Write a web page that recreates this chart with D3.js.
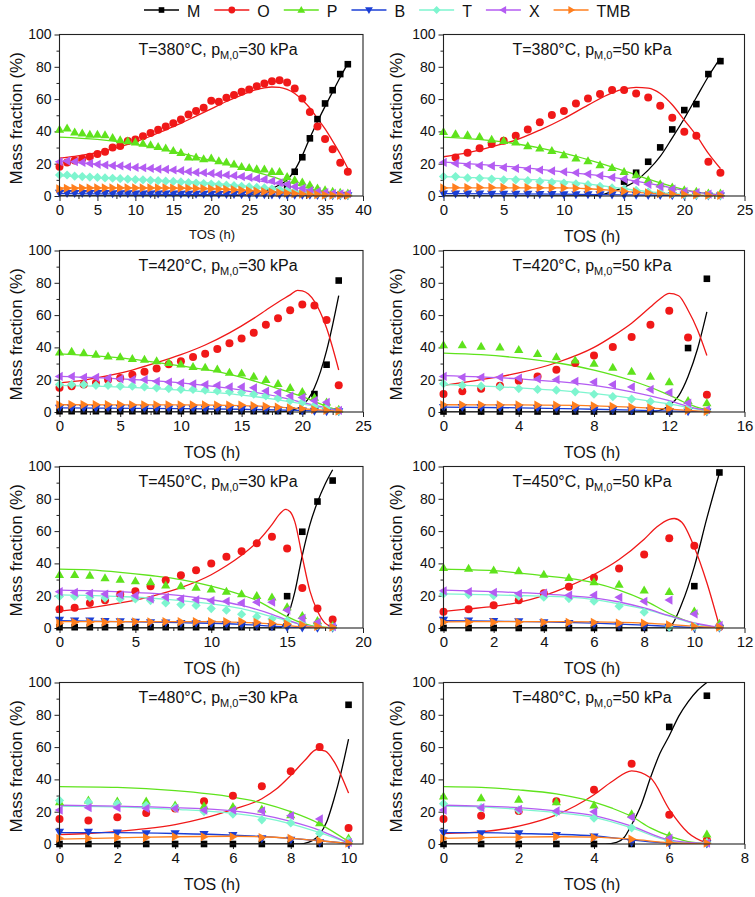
<!DOCTYPE html>
<html><head><meta charset="utf-8">
<script src="https://cdn.jsdelivr.net/npm/d3@7"></script>
<style>body{margin:0;background:#fff} svg text{font-family:"Liberation Sans",Arial,sans-serif;fill:#111}</style>
</head><body><svg id="c" width="755" height="897"></svg>
<script>
const seriesNames = ["M","O","P","B","T","X","TMB"];
const seriesColors = ["#000000","#f01818","#5fe31c","#1b3fd6","#7ef5cf","#b45cf2","#ff7f1e"];
const yTicks = [0,20,40,60,80,100];

// Panel 1: T=380 C, 30 kPa
const p1_tos = [0,1,2,3,4,5,6,7,8,9,10,11,12,13,14,15,16,17,18,19,20,21,22,23,24,25,26,27,28,29,30,31,32,33,34,35,36,37,38];
const p1_M = [null,null,null,null,null,null,null,null,null,null,null,null,null,null,null,null,null,null,null,null,null,null,null,null,null,null,null,null,null,null,6,15,24,35.7,47.6,57.3,65.5,75.5,81.6];
const p1_O = [18.1,20.8,22,23,24.3,26,27.4,30,31,34,35,37,39,41,43,45,47.4,50.5,52.6,54.6,59,58.4,60.8,62.5,64.5,66,68,69.7,71,71.7,70.3,66.6,60.4,52,43,35.3,29,20.6,15];
const p1_P = [41.2,41.9,39.4,38.8,38.1,38.1,37.7,36.1,34.6,34,33.2,32.4,31.5,30.5,29.5,28,26.8,23.9,23.9,22.9,23.3,21.6,20.8,19.6,18.1,17.5,16.7,16.5,15,15,11.9,9.9,8.5,6.8,4.7,3.7,2.7,2.1,1.6];
const p1_B = [1.9,1.8,1.8,1.7,1.8,1.7,1.7,1.6,1.6,1.6,1.5,1.5,1.5,1.4,1.4,1.4,1.3,1.3,1.3,1.2,1.2,1.1,1.1,1.1,1.0,1.0,0.9,0.9,0.8,0.8,0.7,0.7,0.6,0.6,0.5,0.5,0.4,0.4,0.4];
const p1_T = [13,13,12.3,12,11.7,11.5,11.2,11,10.7,10.5,10.2,10,9.7,9.5,9.2,9,8.7,8.3,8,7.7,7.4,7,6.7,6.4,6,5.7,5.3,5,4.5,4,3.5,3,2.5,2,1.6,1.2,1,0.8,0.6];
const p1_X = [21.2,21.6,21.2,20.8,20.2,19.6,19.2,18.8,18.6,18.1,17.7,17.5,17.1,16.7,16.5,16.1,15.7,15.1,14.6,14.4,14,13.4,13,12.6,12,11.5,10.9,10.3,9.3,8.2,7.2,5.8,4.7,3.3,2.7,2.1,1.6,1.4,1.4];
const p1_TMB = [4.5,4.8,4.8,4.9,4.9,5,5,5,5,5,5,5,5,5,5,4.9,4.9,4.8,4.7,4.6,4.5,4.3,4.1,3.9,3.6,3.3,3,2.7,2.4,2.1,1.8,1.5,1.2,1,0.8,0.6,0.5,0.4,0.3];
const p1_fitM = [[0,0],[22,0],[24,0.5],[26,1.6],[27,3],[28,4.7],[29,7],[30,10],[31,16],[32,25],[33,36],[34,46],[35,55.5],[36,64.5],[37,73.5],[38,82]];
const p1_fitO = [[0,23.5],[2,24.5],[4,26],[6,28],[8,30.5],[10,33.5],[12,37],[14,41],[16,45],[18,49.5],[20,54],[22,58.5],[24,62.5],[26,66],[27,67],[28,67.5],[29,67.3],[30,66],[31,63.5],[32,59.5],[33,54.5],[34,48],[35,41.5],[36,34],[37,26],[38,17]];
const p1_fitP = [[0,36.5],[5,35],[10,32],[15,27.5],[20,22],[25,16],[28,12],[30,9],[32,6],[34,3.5],[36,1.8],[38,0.8]];
const p1_fitB = [[0,1.5],[10,1.2],[20,0.9],[30,0.5],[38,0.2]];
const p1_fitT = [[0,12.5],[10,10.5],[20,8],[25,6],[30,3.5],[35,1.2],[38,0.5]];
const p1_fitX = [[0,21.5],[5,19.8],[10,17.6],[15,15.5],[20,13.3],[25,10.5],[28,8],[30,6.3],[32,4.5],[34,3],[36,1.8],[38,1]];
const p1_fitTMB = [[0,5],[10,5],[20,4.5],[25,3.3],[30,1.8],[35,0.6],[38,0.3]];

// Panel 2: T=380 C, 50 kPa
const p2_tos = [0,1,2,3,4,5,6,7,8,9,10,11,12,13,14,15,16,17,18,19,20,21,22,23];
const p2_M = [null,null,null,null,null,null,null,null,null,null,null,null,null,null,null,8.9,14.4,21.2,30.1,41.2,53.2,56.9,75.5,83.5];
const p2_O = [null,23.9,26.8,29.5,32.2,34.2,37.3,41.2,45.6,50.1,52.6,57.3,60.4,63.1,65.6,65.6,63.5,61,55.9,48.5,39.8,37.3,21.2,14.4];
const p2_P = [39.8,38.4,37.7,36.7,35,34.2,33.2,30.9,29.5,28,25.4,23.3,21.6,19.2,17.5,15,13,9.9,7.4,5.4,3.7,2.7,1.6,1.6];
const p2_B = [1.5,1.5,1.4,1.4,1.3,1.3,1.2,1.2,1.1,1.1,1,1,0.9,0.9,0.8,0.7,0.6,0.5,0.5,0.4,0.3,0.3,0.2,0.2];
const p2_T = [12,12,11.2,11,10.5,10,10,9.5,9,8.5,8,7.5,7,6,5,4.3,3.5,2.5,2,1.5,1,0.7,0.5,0.3];
const p2_X = [20.8,20.2,19.2,18.8,18.6,17.7,17.1,16.7,16.1,15.5,15,14.4,13.6,12.6,11.5,10.5,8.9,7.2,5.8,4.3,2.7,2.1,1.2,1];
const p2_TMB = [5,5.2,5.2,5.3,5.3,5.3,5.2,5.2,5.1,5,5,4.8,4.5,4,3.5,3,2.5,2,1.5,1.2,1,0.7,0.5,0.3];
const p2_fitM = [[0,0],[12,0],[13,0.6],[14,2.7],[15,5.5],[16,9.5],[17,16],[18,24.5],[19,36],[20,48],[21,61],[22,74],[23,85.5]];
const p2_fitO = [[0,24.3],[2,26.8],[4,30.5],[6,34.6],[8,40.8],[10,48],[12,56.3],[14,63.9],[15,66.3],[16,67.3],[17,66.8],[18,63.5],[19,56.5],[20,47],[21,37.5],[22,26.4],[23,17]];
const p2_fitP = [[0,36.5],[5,33.5],[10,26.5],[15,15.5],[17,10.5],[19,6],[21,2.5],[23,0.7]];
const p2_fitB = [[0,1.5],[10,1.1],[15,0.7],[20,0.3],[23,0.1]];
const p2_fitT = [[0,12],[5,10.8],[10,9],[13,6.5],[15,4.5],[18,2],[20,1],[23,0.2]];
const p2_fitX = [[0,21],[5,18.5],[10,15],[15,10.5],[18,6.5],[20,3.5],[23,0.5]];
const p2_fitTMB = [[0,5],[10,5],[12,4.5],[14,3.5],[16,2.3],[18,1.3],[20,0.7],[23,0.2]];

// Panel 3: T=420 C, 30 kPa
const p3_tos = [0,1,2,3,4,5,6,7,8,9,10,11,12,13,14,15,16,17,18,19,20,21,22,23];
const p3_M = [0.5,0.5,0.5,0.5,0.5,0.5,0.5,0.5,0.5,0.5,0.5,0.5,0.5,0.5,0.5,0.5,0.5,0.5,0.5,0.5,0.5,11.1,29.3,81.4];
const p3_O = [15,16,17,18,20,21,23,25,27,29.5,31.5,34,36,39,42.5,45.5,49,54,58,63,66.5,66,57,16.5];
const p3_P = [37,37.5,36.5,35.5,34.5,34,33,32.5,31.5,30.5,29.5,28,27.5,26.5,24.5,24,22,20,17.5,15,12.5,9,6,1.5];
const p3_B = [2.5,2.5,2.4,2.4,2.3,2.3,2.2,2.2,2.1,2.1,2,2,1.9,1.9,1.8,1.8,1.6,1.4,1.2,1,0.8,0.6,0.4,0.3];
const p3_T = [17,17,17,16.5,16.5,16,16,15.5,15,14.5,14,14,13.5,13,12.5,12,11,10,8.5,7,6,4,2.5,0.5];
const p3_X = [22,22,21.5,21.5,21,20.5,20,20,19,18.5,18,17.5,17,16.5,15.5,15.5,15,13,12,10,9,7,6,1];
const p3_TMB = [4.5,4.6,4.6,4.6,4.6,4.6,4.5,4.5,4.5,4.5,4.4,4.4,4.4,4.3,4.3,4.3,3.9,3.5,3,2.5,2,1.5,1,0.5];
const p3_fitM = [[0,0],[18,0],[19,0.8],[20,4],[21,15],[21.5,25],[22,38],[22.5,54],[23,72]];
const p3_fitO = [[0,18],[2,19.8],[4,22.5],[6,26],[8,30.5],[10,35.5],[12,41.5],[14,49],[16,58],[17,63],[18,68],[19,72.5],[19.6,75.3],[20,75],[20.5,73],[21,68.5],[22,52],[23,26]];
const p3_fitP = [[0,36],[5,33.5],[10,28.5],[13,25],[15,21.5],[17,17],[19,12],[20,9.5],[21,6.5],[22,3.5],[23,1]];
const p3_fitB = [[0,2.5],[10,2.1],[15,1.7],[20,0.9],[23,0.3]];
const p3_fitT = [[0,16.5],[5,15.5],[10,13.5],[15,10.5],[18,7.5],[20,5],[22,2],[23,0.7]];
const p3_fitX = [[0,22],[5,20.5],[10,18],[15,13.5],[18,9.5],[20,6],[22,2.5],[23,0.8]];
const p3_fitTMB = [[0,4.5],[10,4.4],[15,4],[18,3],[20,2],[22,1],[23,0.5]];

// Panel 4: T=420 C, 50 kPa
const p4_tos = [0,1,2,3,4,5,6,7,8,9,10,11,12,13,14];
const p4_M = [0.3,0.3,0.3,0.3,0.3,0.3,0.3,0.3,0.3,0.3,0.3,0.3,0.3,39.6,82.5];
const p4_O = [11.1,12.8,14.4,16.3,19.4,22,26.2,30.3,35,40.2,46.4,54,62.7,46.2,10.7];
const p4_P = [41.5,41.5,40.5,40,38.5,36,34,32,30,27.5,25,22,18.5,7,5.5];
const p4_B = [3,2.9,2.8,2.6,2.5,2.3,2,1.8,1.5,1.3,1,0.8,0.5,0.3,0.2];
const p4_T = [17.5,16.5,16,15.5,14.5,14,13.5,12.5,11,9.5,8,6.5,4.5,2.5,0.5];
const p4_X = [22,21.5,21.5,21.5,21,20.5,20,19,18.5,17,15.5,14,12,5.5,1.5];
const p4_TMB = [4.5,4.5,4.5,4.4,4.4,4.3,4.2,4,3.8,3.5,3,2.5,2,1,0.3];
const p4_fitM = [[0,0],[11,0],[11.5,1],[12,4],[12.5,10],[13,22],[13.5,39],[14,62]];
const p4_fitO = [[0,16.5],[2,20],[4,24.2],[6,30.5],[8,40],[9,47],[10,55],[11,65],[11.5,70],[12,73.5],[12.5,72],[13,63],[13.5,51],[14,35]];
const p4_fitP = [[0,36.5],[2,35.5],[4,33.5],[6,30.5],[8,26],[10,19.5],[12,10.5],[13,5],[14,1]];
const p4_fitB = [[0,3],[4,2.6],[8,1.7],[12,0.6],[14,0.1]];
const p4_fitT = [[0,17],[4,15],[8,11.5],[10,8.5],[12,5],[14,0.5]];
const p4_fitX = [[0,22.5],[4,20.5],[8,16.5],[10,12.5],[12,7],[13,3.5],[14,0.8]];
const p4_fitTMB = [[0,4.5],[4,4.4],[8,3.8],[10,3],[12,1.8],[14,0.2]];

// Panel 5: T=450 C, 30 kPa
const p5_tos = [0,1,2,3,4,5,6,7,8,9,10,11,12,13,14,15,16,17,18];
const p5_M = [0.5,0.5,0.5,0.5,0.5,0.5,0.5,0.5,0.5,0.5,0.5,0.5,0.5,0.5,0.5,19.7,59.6,78.3,91.3];
const p5_O = [11.6,12.6,15.5,17.2,20.7,22.8,25.9,29.6,32.7,35.8,40,44.1,47.6,52.4,56.5,49.3,24.8,12,5.2];
const p5_P = [33,33,32.5,31,30,29,28.5,26.5,26,25,24,22.5,21,20,19,13,7.5,4.5,1.5];
const p5_B = [5,4.5,4.5,4.2,4,3.8,3.5,3.3,3,2.8,2.5,2.2,1.8,1.5,1,0.5,0.2,0.1,0];
const p5_T = [19.5,19.5,19,18.5,18,18,17,15.5,14.5,14,12,11,8.5,7,5.5,4.5,3,1.5,0.5];
const p5_X = [22.5,22,21.5,21,20.5,20,18,19,18,17.5,17,16.5,15.5,16,16,11,6,3.5,0.8];
const p5_TMB = [3,3.5,3.5,3.6,3.7,3.8,3.8,3.9,3.9,4,4,4,4,3.5,3,2.5,2,1,0.5];
const p5_fitM = [[0,0],[14.5,0],[15,6.5],[15.5,22],[16,45],[16.5,64],[17,78],[17.5,89],[18,98]];
const p5_fitO = [[0,10.5],[2,12.5],[4,15.5],[6,19.5],[8,25],[10,33],[11,38.5],[12,45],[13,53],[14,64],[14.5,70.5],[14.9,73.5],[15.2,72],[15.5,66],[16,44],[16.5,23],[17,10.5],[17.5,3],[18,0.6]];
const p5_fitP = [[0,36.5],[2,36],[4,34.5],[6,32.5],[8,30],[10,26],[12,20.5],[13,17],[14,12],[15,7],[16,3],[17,0.8],[18,0.2]];
const p5_fitB = [[0,4.5],[4,4],[8,3.3],[12,2.3],[14,1.2],[16,0.2],[18,0]];
const p5_fitT = [[0,20.5],[4,19.5],[8,17],[10,15],[12,12],[14,7],[15,4.5],[16,2],[17,0.5],[18,0.1]];
const p5_fitX = [[0,23.5],[4,22.5],[8,20],[10,17.5],[12,14],[14,8.5],[15,5],[16,2],[17,0.5],[18,0.1]];
const p5_fitTMB = [[0,4],[6,4],[10,4],[12,3.5],[14,2.5],[16,0.8],[18,0.1]];

// Panel 6: T=450 C, 50 kPa
const p6_tos = [0,1,2,3,4,5,6,7,8,9,10,11];
const p6_M = [0,0,0,0,0,0,0,0,0,0,25.9,96.3];
const p6_O = [10,11.6,14.1,17.2,21.5,25.5,31.1,36.9,45.5,55.5,50.9,0.6];
const p6_P = [37.2,36.8,35.8,35.2,33.1,31.1,28.5,26.9,23.4,22.4,10.3,2.7];
const p6_B = [5,4.5,4.2,4,3.5,3,2.2,1.5,1,0.5,0.2,0];
const p6_T = [21.1,20.7,20.1,19.7,19.1,18.2,16.6,13.5,9.8,0.5,1,0.5];
const p6_X = [23,22.5,22,21.3,21.6,20.3,20.3,19,16.5,17.3,8.7,1.7];
const p6_TMB = [3.5,3.5,3.5,3.5,3.5,3.5,3.5,3,3,2,1,0.5];
const p6_fitM = [[0,0],[8.8,0],[9,0.5],[9.5,15],[10,38],[10.5,68],[11,96]];
const p6_fitO = [[0,10.3],[1,11.8],[2,13.4],[3,15.9],[4,20],[5,25.9],[6,33.1],[7,42.4],[8,55],[8.5,62.5],[9,67.3],[9.2,67.8],[9.5,65.5],[10,50],[10.5,28],[11,1]];
const p6_fitP = [[0,36.5],[2,35.5],[4,32.3],[5,30.7],[6,28],[7,23.5],[8,17.3],[9,9],[10,2.8],[11,0.3]];
const p6_fitB = [[0,4.5],[2,4.2],[4,3.8],[6,3],[8,1.8],[9,1],[10,0.3],[11,0]];
const p6_fitT = [[0,21.1],[2,20.5],[4,19.7],[5,19.1],[6,17.6],[7,14.9],[8,11.8],[9,7.3],[10,2.7],[11,0.3]];
const p6_fitX = [[0,23.4],[2,22.5],[4,21.1],[5,20.1],[6,18.6],[7,16.1],[8,12.4],[9,7.6],[10,3.1],[11,0.3]];
const p6_fitTMB = [[0,3.8],[2,4],[4,4],[6,3.8],[8,3],[9,2.2],[10,1],[11,0.2]];

// Panel 7: T=480 C, 30 kPa
const p7_tos = [0,1,2,3,4,5,6,7,8,9,10];
const p7_M = [0,0,0,0,0,0,0,0,0,0,86.2];
const p7_O = [15.5,14.6,16.5,19.2,22,26.4,29.9,35.7,45,60,9.9];
const p7_P = [26,27,26.5,26.5,24,23.5,23,21.5,18,13,3.5];
const p7_B = [7.5,7.5,7,6.5,6.5,6,5.5,3.5,2.5,1,0.2];
const p7_T = [27,26,25,24,22.5,20,18.5,15,13,6.5,2];
const p7_X = [21,22.5,22.5,22,22,21,21,20.5,17.5,15.5,1];
const p7_TMB = [3.5,3.5,4,4,4.5,4.5,4.5,4,3.5,2,0.5];
const p7_fitM = [[0,0],[8.3,0],[8.6,1],[9,6],[9.25,14],[9.5,28],[9.75,45],[10,65]];
const p7_fitO = [[0,5.8],[1,6.5],[2,7.8],[3,9.5],[4,12],[5,16],[6,21.5],[7,28],[7.5,34],[8,42.5],[8.5,52],[8.9,58.5],[9.2,57.5],[9.5,51],[10,31.5]];
const p7_fitP = [[0,35.5],[2,35],[4,33],[6,29],[7,25.5],[8,20],[9,12.5],[10,1.5]];
const p7_fitB = [[0,7],[2,7],[4,6.5],[6,5.5],[8,3.5],[9,2],[10,0.3]];
const p7_fitT = [[0,23.5],[2,23],[4,21.5],[6,19],[7,16.5],[8,12.5],[9,7],[10,0.5]];
const p7_fitX = [[0,24],[2,23.5],[4,22.5],[6,20.5],[7,18],[8,14],[9,8.5],[10,0.5]];
const p7_fitTMB = [[0,3],[2,3.8],[4,4.5],[6,4.8],[7,4.5],[8,3.5],[9,2],[10,0.3]];

// Panel 8: T=480 C, 50 kPa
const p8_tos = [0,1,2,3,4,5,6,7];
const p8_M = [0,0,0,0,0,0,72.5,91.8];
const p8_O = [15.5,17.5,20.5,26.4,33.6,49.7,18.1,2.3];
const p8_P = [29.5,28.5,27.5,26,24,18.5,5,6];
const p8_B = [7,6.5,6.5,5.5,4.5,1,0.5,0.2];
const p8_T = [25,22.5,21,19.5,16,10,2,1];
const p8_X = [21,22.5,21.5,20.5,20,16.5,3.5,0.5];
const p8_TMB = [3.5,4,4,4.5,4,3,1,0.5];
const p8_fitM = [[0,0],[4.3,0],[4.6,1],[4.8,4],[5,12],[5.25,24],[5.5,41],[5.75,56],[6,67],[6.25,79],[6.5,88],[6.75,95],[7,100]];
const p8_fitO = [[0,6.5],[1,7.5],[2,11],[3,18],[3.5,23.5],[4,30.5],[4.5,39],[5,45.3],[5.5,41],[6,21.5],[6.5,7],[7,0.5]];
const p8_fitP = [[0,35.5],[1,35],[2,33.5],[3,31],[4,26],[4.5,22],[5,17],[5.5,10],[6,5],[6.5,1.5],[7,0.3]];
const p8_fitB = [[0,7],[1,7],[2,6.5],[3,6],[4,5],[5,2.5],[6,0.5],[7,0.1]];
const p8_fitT = [[0,23.5],[1,23],[2,21.5],[3,19.5],[4,16.5],[5,10],[6,2],[7,0.2]];
const p8_fitX = [[0,24],[1,23.5],[2,22.5],[3,20.5],[4,17.5],[5,11],[6,2.5],[7,0.2]];
const p8_fitTMB = [[0,3.5],[1,4],[2,4.3],[3,4.5],[4,4.3],[5,3],[6,0.8],[7,0.1]];

const panelTemps = ["380","380","420","420","450","450","480","480"];
const panelPress = ["30","50","30","50","30","50","30","50"];
const panelXmax = [40,25,25,16,20,12,10.5,8];
const panelXticks = [[0,5,10,15,20,25,30,35,40],[0,5,10,15,20,25],[0,5,10,15,20,25],[0,4,8,12,16],[0,5,10,15,20],[0,2,4,6,8,10,12],[0,2,4,6,8,10],[0,2,4,6,8]];

const panels = [
 {tos:p1_tos, pts:[p1_M,p1_O,p1_P,p1_B,p1_T,p1_X,p1_TMB], fits:[p1_fitM,p1_fitO,p1_fitP,p1_fitB,p1_fitT,p1_fitX,p1_fitTMB]},
 {tos:p2_tos, pts:[p2_M,p2_O,p2_P,p2_B,p2_T,p2_X,p2_TMB], fits:[p2_fitM,p2_fitO,p2_fitP,p2_fitB,p2_fitT,p2_fitX,p2_fitTMB]},
 {tos:p3_tos, pts:[p3_M,p3_O,p3_P,p3_B,p3_T,p3_X,p3_TMB], fits:[p3_fitM,p3_fitO,p3_fitP,p3_fitB,p3_fitT,p3_fitX,p3_fitTMB]},
 {tos:p4_tos, pts:[p4_M,p4_O,p4_P,p4_B,p4_T,p4_X,p4_TMB], fits:[p4_fitM,p4_fitO,p4_fitP,p4_fitB,p4_fitT,p4_fitX,p4_fitTMB]},
 {tos:p5_tos, pts:[p5_M,p5_O,p5_P,p5_B,p5_T,p5_X,p5_TMB], fits:[p5_fitM,p5_fitO,p5_fitP,p5_fitB,p5_fitT,p5_fitX,p5_fitTMB]},
 {tos:p6_tos, pts:[p6_M,p6_O,p6_P,p6_B,p6_T,p6_X,p6_TMB], fits:[p6_fitM,p6_fitO,p6_fitP,p6_fitB,p6_fitT,p6_fitX,p6_fitTMB]},
 {tos:p7_tos, pts:[p7_M,p7_O,p7_P,p7_B,p7_T,p7_X,p7_TMB], fits:[p7_fitM,p7_fitO,p7_fitP,p7_fitB,p7_fitT,p7_fitX,p7_fitTMB]},
 {tos:p8_tos, pts:[p8_M,p8_O,p8_P,p8_B,p8_T,p8_X,p8_TMB], fits:[p8_fitM,p8_fitO,p8_fitP,p8_fitB,p8_fitT,p8_fitX,p8_fitTMB]}
];

// ---------- drawing ----------
const svg = d3.select("#c");
const FONT = '"Liberation Sans",Arial,sans-serif';
const colX = [[59.5,363],[443.5,744.5]];
const rowTop = [34.5,250.5,466.5,682.5];
const plotH = 161.5;

const markerPaths = [
  "M-3.3,-3.3H3.3V3.3H-3.3Z",
  "M4,0A4,4 0 1,1 -4,0A4,4 0 1,1 4,0Z",
  "M0,-4.8L4.6,3.2H-4.6Z",
  "M0,4.8L4.6,-3.2H-4.6Z",
  "M0,-4.6L4.6,0L0,4.6L-4.6,0Z",
  "M-4.8,0L3.2,-4.6V4.6Z",
  "M4.8,0L-3.2,-4.6V4.6Z"
];

// legend
(function(){
  const lg = svg.append("g");
  let x0 = 144;
  seriesNames.forEach((name,i)=>{
    lg.append("line").attr("x1",x0).attr("x2",x0+35).attr("y1",10).attr("y2",10)
      .attr("stroke",seriesColors[i]).attr("stroke-width",1.5);
    lg.append("path").attr("d",markerPaths[i]).attr("transform",`translate(${x0+17.5},10) scale(0.85)`)
      .attr("fill",seriesColors[i]);
    const t = lg.append("text").attr("x",x0+43).attr("y",16.5).attr("font-size",16).text(name);
    const w = t.node().getComputedTextLength();
    x0 = x0 + 43 + w + 14;
  });
})();

panels.forEach((p,i)=>{
  const col = i%2, row = Math.floor(i/2);
  const top = rowTop[row], bottom = top+plotH;
  const x = d3.scaleLinear().domain([0,panelXmax[i]]).range(colX[col]);
  const y = d3.scaleLinear().domain([0,100]).range([bottom,top]);
  const g = svg.append("g");

  const cid = "clip"+i;
  svg.append("clipPath").attr("id",cid).append("rect")
    .attr("x",colX[col][0]).attr("y",top).attr("width",colX[col][1]-colX[col][0]).attr("height",plotH);

  // axes
  const majors = panelXticks[i];
  const step = majors[1]-majors[0];
  const xminor = majors.slice(0,-1).map(d=>d+step/2).concat(majors[majors.length-1]+step/2 <= panelXmax[i] ? [majors[majors.length-1]+step/2] : []);
  const yminor = [10,30,50,70,90];

  const xa = g.append("g").attr("transform",`translate(0,${bottom})`)
    .call(d3.axisBottom(x).tickValues(majors).tickSize(5).tickSizeOuter(0).tickPadding(3).tickFormat(d3.format("d")));
  xa.select(".domain").remove();
  xa.attr("font-size",15).attr("font-family",FONT);
  const xm = g.append("g").attr("transform",`translate(0,${bottom})`)
    .call(d3.axisBottom(x).tickValues(xminor).tickSize(3).tickSizeOuter(0).tickFormat(""));
  xm.select(".domain").remove();

  const ya = g.append("g").attr("transform",`translate(${colX[col][0]},0)`)
    .call(d3.axisLeft(y).tickValues(yTicks).tickSize(5).tickSizeOuter(0).tickPadding(3));
  ya.select(".domain").remove();
  ya.attr("font-size",14).attr("font-family",FONT);
  const ym = g.append("g").attr("transform",`translate(${colX[col][0]},0)`)
    .call(d3.axisLeft(y).tickValues(yminor).tickSize(3).tickSizeOuter(0).tickFormat(""));
  ym.select(".domain").remove();
  g.selectAll(".tick line").attr("stroke","#222").attr("stroke-width",1);
  g.selectAll(".tick text").attr("fill","#111");

  // fits
  const line = d3.line().x(d=>x(d[0])).y(d=>y(d[1])).curve(d3.curveMonotoneX);
  const lg = g.append("g").attr("clip-path",`url(#${cid})`);
  p.fits.forEach((f,k)=>{
    lg.append("path").attr("d",line(f)).attr("fill","none")
      .attr("stroke",seriesColors[k]).attr("stroke-width",1.3);
  });

  // markers
  const mg = g.append("g");
  p.pts.forEach((vals,k)=>{
    const data = p.tos.map((t,j)=>[t,vals[j]]).filter(d=>d[1]!=null);
    mg.selectAll(null).data(data).enter().append("path")
      .attr("d",markerPaths[k])
      .attr("transform",d=>`translate(${x(d[0])},${y(d[1])})`)
      .attr("fill",seriesColors[k]);
  });

  // frame
  g.append("rect").attr("x",colX[col][0]).attr("y",top)
    .attr("width",colX[col][1]-colX[col][0]).attr("height",plotH)
    .attr("fill","none").attr("stroke","#222").attr("stroke-width",1.1);

  // title
  const cx = col===0 ? 218 : 592;
  const tt = g.append("text").attr("x",cx).attr("y",top+20).attr("text-anchor","middle").attr("font-size",16);
  tt.append("tspan").text(`T=${panelTemps[i]}°C, p`);
  tt.append("tspan").attr("font-size",11).attr("dy",4).text("M,0");
  tt.append("tspan").attr("dy",-4).text(`=${panelPress[i]} kPa`);

  // y title
  const yx = col===0 ? 22 : 402;
  g.append("text").attr("transform",`translate(${yx},${(top+bottom)/2+3}) rotate(-90)`)
    .attr("text-anchor","middle").attr("font-size",17).text("Mass fraction (%)");

  // x title
  const xcx = col===0 ? 212 : 592;
  if(i===0){
    g.append("text").attr("x",xcx).attr("y",bottom+43).attr("text-anchor","middle").attr("font-size",13).text("TOS (h)");
  } else {
    g.append("text").attr("x",xcx).attr("y",bottom+46).attr("text-anchor","middle").attr("font-size",16).text("TOS (h)");
  }
});
</script>
</body></html>
